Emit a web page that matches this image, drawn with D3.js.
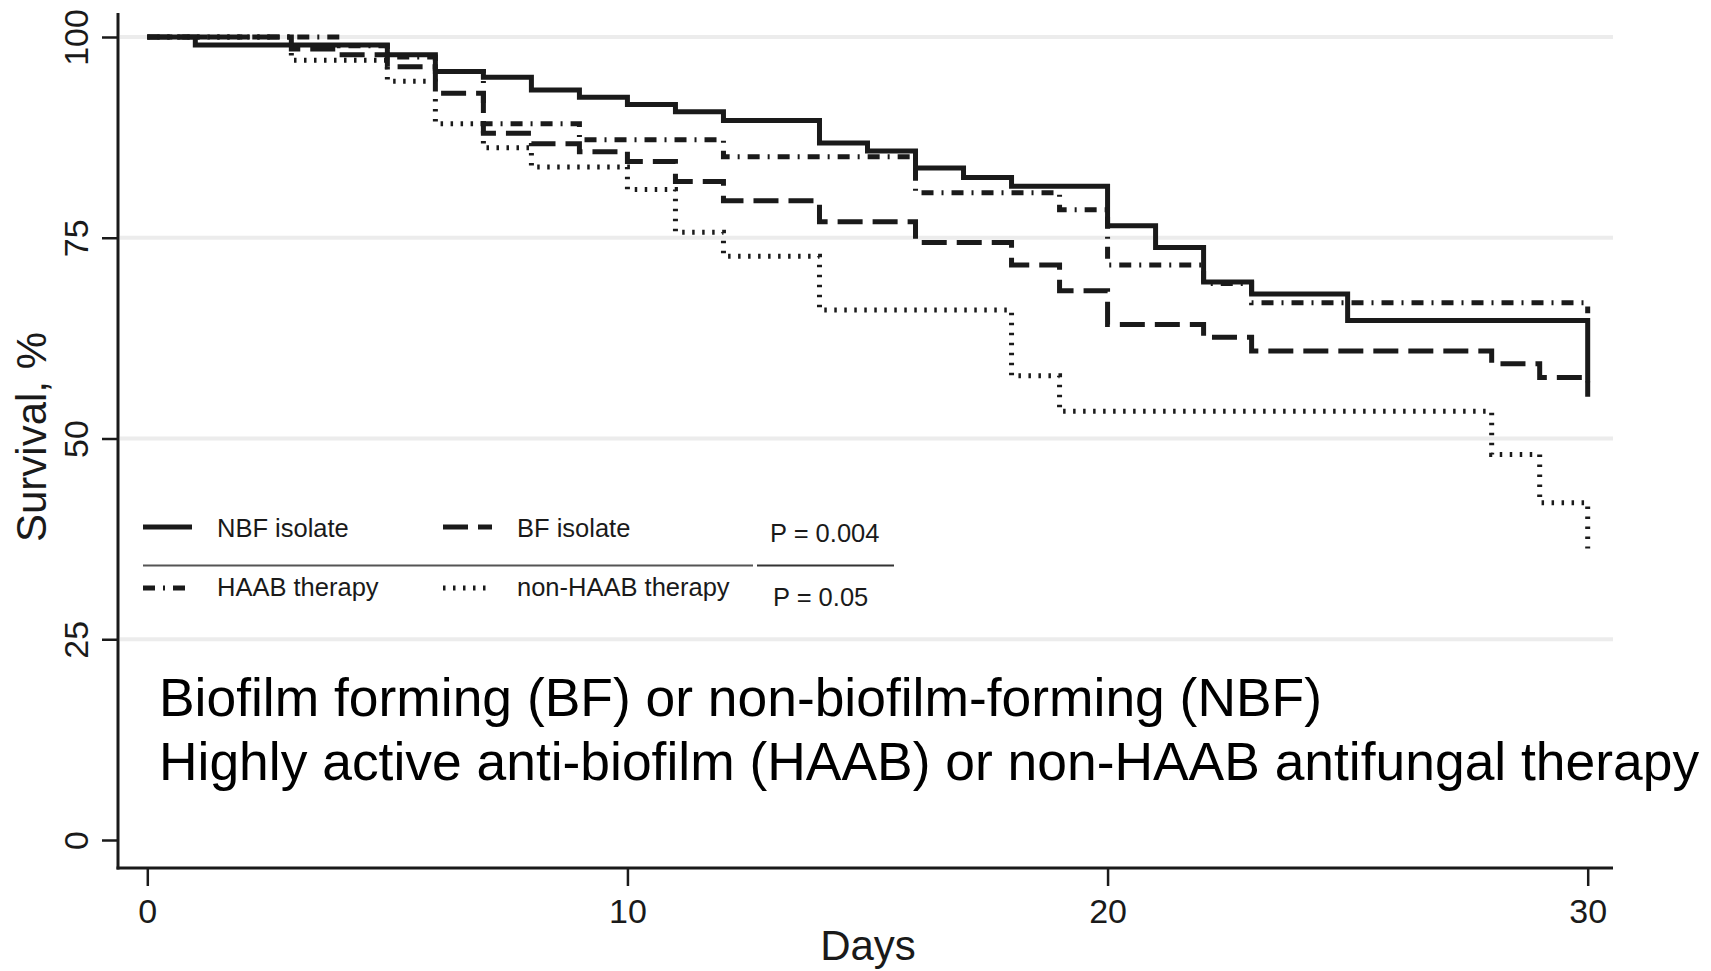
<!DOCTYPE html>
<html>
<head>
<meta charset="utf-8">
<script src="https://cdn.jsdelivr.net/npm/d3@7"></script>
<style>
  html, body { margin: 0; padding: 0; background: #fff; }
  svg { display: block; font-family: "Liberation Sans", Arial, Helvetica, sans-serif; }
</style>
</head>
<body>
<svg id="chart" width="1711" height="971"></svg>
<script>
// Kaplan–Meier steps: day of each step and survival (%) from that day on
const nbfDays  = [0, 1, 5, 6, 7, 8, 9, 10, 11, 12, 14, 15, 16, 17, 18, 20, 21, 22, 23, 25, 30];
const nbfSurv  = [100, 99.0, 97.8, 95.7, 95.0, 93.4, 92.5, 91.6, 90.7, 89.6, 86.8, 85.8, 83.7, 82.5, 81.4, 76.5, 73.8, 69.5, 68.0, 64.7, 55.2];
const bfDays   = [0, 3, 4, 5, 6, 7, 8, 9, 10, 11, 12, 14, 16, 18, 19, 20, 22, 23, 28, 29, 30];
const bfSurv   = [100, 98.5, 97.8, 96.3, 93.0, 88.0, 86.7, 85.7, 84.5, 82.0, 79.6, 77.0, 74.4, 71.6, 68.4, 64.2, 62.6, 60.9, 59.3, 57.6, 57.0];
const haabDays = [0, 4, 5, 6, 7, 9, 12, 16, 19, 20, 22, 23, 30];
const haabSurv = [100, 98.9, 97.5, 95.7, 89.2, 87.2, 85.1, 80.6, 78.5, 71.6, 69.3, 66.9, 65.6];
const nonDays  = [0, 3, 5, 6, 7, 8, 10, 11, 12, 14, 18, 19, 28, 29, 30];
const nonSurv  = [100, 97.1, 94.5, 89.2, 86.2, 83.8, 81.0, 75.7, 72.7, 66.0, 57.8, 53.4, 48.0, 42.0, 36.3];

const xTicks = [0, 10, 20, 30];
const yTicks = [0, 25, 50, 75, 100];
const gridValues = [25, 50, 75, 100];

const legendLabels = ["NBF isolate", "BF isolate", "HAAB therapy", "non-HAAB therapy"];
const pValues = ["P = 0.004", "P = 0.05"];
const noteLines = [
  "Biofilm forming (BF) or non-biofilm-forming (NBF)",
  "Highly active anti-biofilm (HAAB) or non-HAAB antifungal therapy"
];
const xTitle = "Days";
const yTitle = "Survival, %";

// line patterns for the four groups
const patterns = {
  solid: null,
  dash: "25,10",
  dashdot: "12,8,2,8",
  dot: "2.5,7.5"
};

const ink = "#1a1a1a";
const lineWidth = 5;
const svg = d3.select("#chart");

const x = d3.scaleLinear().domain([0, 30]).range([147.3, 1587.7]);
const y = d3.scaleLinear().domain([0, 100]).range([840, 37]);

const frame = { left: 118, right: 1613, top: 13, bottom: 868 };

// horizontal grid
svg.append("g").selectAll("line").data(gridValues).join("line")
  .attr("x1", frame.left + 2).attr("x2", frame.right)
  .attr("y1", d => y(d)).attr("y2", d => y(d))
  .attr("stroke", "#ececec").attr("stroke-width", 4);

// survival curves
const step = d3.line().curve(d3.curveStepAfter).x(d => x(d[0])).y(d => y(d[1]));
const series = [
  { days: nbfDays,  surv: nbfSurv,  dash: patterns.solid },
  { days: bfDays,   surv: bfSurv,   dash: patterns.dash },
  { days: haabDays, surv: haabSurv, dash: patterns.dashdot },
  { days: nonDays,  surv: nonSurv,  dash: patterns.dot }
];
svg.append("g").selectAll("path").data(series).join("path")
  .attr("d", s => step(d3.zip(s.days, s.surv)))
  .attr("fill", "none")
  .attr("stroke", ink)
  .attr("stroke-width", lineWidth)
  .attr("stroke-linecap", "butt")
  .attr("stroke-linejoin", "miter")
  .attr("stroke-dasharray", s => s.dash);

// axes
const yAxis = svg.append("g")
  .attr("transform", `translate(${frame.left},0)`)
  .call(d3.axisLeft(y).tickValues(yTicks).tickSize(16).tickPadding(0));
yAxis.select(".domain").remove();
yAxis.selectAll(".tick line").attr("stroke", ink).attr("stroke-width", 2.5);
yAxis.selectAll(".tick text")
  .attr("x", null).attr("dy", null)
  .attr("transform", "translate(-30,0) rotate(-90)")
  .attr("text-anchor", "middle")
  .attr("fill", ink)
  .style("font-size", "34px")
  .style("font-family", "Liberation Sans, Arial, sans-serif");

const xAxis = svg.append("g")
  .attr("transform", `translate(0,${frame.bottom})`)
  .call(d3.axisBottom(x).tickValues(xTicks).tickSize(18).tickPadding(0));
xAxis.select(".domain").remove();
xAxis.selectAll(".tick line").attr("stroke", ink).attr("stroke-width", 2.5);
xAxis.selectAll(".tick text")
  .attr("y", 55).attr("dy", null)
  .attr("fill", ink)
  .style("font-size", "34px")
  .style("font-family", "Liberation Sans, Arial, sans-serif");

// axis lines
svg.append("line")
  .attr("x1", frame.left).attr("x2", frame.left)
  .attr("y1", frame.top).attr("y2", frame.bottom + 1.5)
  .attr("stroke", ink).attr("stroke-width", 3);
svg.append("line")
  .attr("x1", frame.left - 1.5).attr("x2", frame.right)
  .attr("y1", frame.bottom).attr("y2", frame.bottom)
  .attr("stroke", ink).attr("stroke-width", 3);

// axis titles
svg.append("text")
  .attr("x", 868).attr("y", 960)
  .attr("text-anchor", "middle")
  .attr("fill", ink)
  .style("font-size", "42px")
  .text(xTitle);
svg.append("text")
  .attr("transform", "translate(46,437) rotate(-90)")
  .attr("text-anchor", "middle")
  .attr("fill", ink)
  .style("font-size", "42px")
  .text(yTitle);

// legend
const legendItems = [
  { label: legendLabels[0], dash: patterns.solid,   sx: 143, tx: 217, row: 0 },
  { label: legendLabels[1], dash: patterns.dash,    sx: 443, tx: 517, row: 0 },
  { label: legendLabels[2], dash: patterns.dashdot, sx: 143, tx: 217, row: 1 },
  { label: legendLabels[3], dash: patterns.dot,     sx: 443, tx: 517, row: 1 }
];
const rowLineY = [527, 588];
const rowTextY = [537, 596];
const legend = svg.append("g");
legend.selectAll("line.sample").data(legendItems).join("line")
  .attr("class", "sample")
  .attr("x1", d => d.sx).attr("x2", d => d.sx + 49)
  .attr("y1", d => rowLineY[d.row]).attr("y2", d => rowLineY[d.row])
  .attr("stroke", ink).attr("stroke-width", lineWidth)
  .attr("stroke-dasharray", d => d.dash);
legend.selectAll("text.label").data(legendItems).join("text")
  .attr("class", "label")
  .attr("x", d => d.tx).attr("y", d => rowTextY[d.row])
  .attr("fill", ink)
  .style("font-size", "25.5px")
  .text(d => d.label);

// separator between the two groupings
legend.append("line")
  .attr("x1", 143).attr("x2", 753).attr("y1", 565.5).attr("y2", 565.5)
  .attr("stroke", "#555").attr("stroke-width", 2);
legend.append("line")
  .attr("x1", 757).attr("x2", 894).attr("y1", 565.5).attr("y2", 565.5)
  .attr("stroke", "#333").attr("stroke-width", 2);

legend.selectAll("text.pval").data(pValues).join("text")
  .attr("class", "pval")
  .attr("x", (d, i) => i === 0 ? 770 : 773)
  .attr("y", (d, i) => i === 0 ? 542 : 606)
  .attr("fill", ink)
  .style("font-size", "25.5px")
  .text(d => d);

// descriptive note inside the plot
svg.append("g").selectAll("text").data(noteLines).join("text")
  .attr("x", 159)
  .attr("y", (d, i) => 716 + i * 64)
  .attr("fill", "#000")
  .style("font-size", "53.4px")
  .text(d => d);
</script>
</body>
</html>
